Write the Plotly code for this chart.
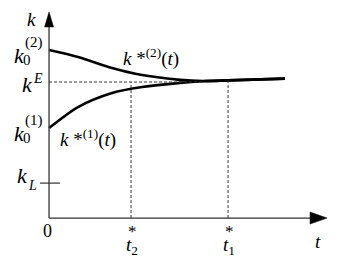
import plotly.graph_objects as go

# ---- data ----
t_vals = [0.0, 0.162, 0.352, 0.520, 0.732, 0.860, 1.0, 1.318]
k_upper = [1.235, 1.184, 1.103, 1.051, 1.016, 1.008, 1.012, 1.025]
k_lower = [0.662, 0.816, 0.919, 0.963, 0.994, 1.006, 1.012, 1.025]

K_E = 1.0
K0_2 = 1.235
K0_1 = 0.662
K_L = 0.257
T2 = 0.458
T1 = 1.0
T_MEET = 0.86
Y_TIP = 1.515
X_TIP = 1.553

X_RANGE = [-0.274, 1.670]
Y_RANGE = [-0.301, 1.603]
W, H = 348, 259
PX_X = W / (X_RANGE[1] - X_RANGE[0])
PX_Y = H / (Y_RANGE[1] - Y_RANGE[0])

FONT = "Liberation Serif"

fig = go.Figure()
for ys in (k_upper, k_lower):
    fig.add_trace(go.Scatter(x=t_vals, y=ys, mode="lines",
                             line=dict(color="black", width=2.6, shape="spline", smoothing=0.8),
                             hoverinfo="skip", showlegend=False))

shapes = []
# axes
shapes.append(dict(type="line", x0=0, y0=0, x1=0, y1=Y_TIP - 10 / PX_Y, line=dict(color="#333", width=1.3)))
shapes.append(dict(type="line", x0=0, y0=0, x1=X_TIP - 10 / PX_X, y1=0, line=dict(color="#333", width=1.3)))
# arrowheads
hw = 4.5 / PX_X
ay = Y_TIP - 15 / PX_Y
shapes.append(dict(type="path", path=f"M {-hw},{ay} L 0,{Y_TIP} L {hw},{ay} Z",
                   fillcolor="black", line=dict(color="black", width=0.5)))
hh = 6.0 / PX_Y
ax_ = X_TIP - 17 / PX_X
shapes.append(dict(type="path", path=f"M {ax_},{-hh} L {X_TIP},0 L {ax_},{hh} Z",
                   fillcolor="black", line=dict(color="black", width=0.5)))
# kL tick
shapes.append(dict(type="line", x0=-9 / PX_X, y0=K_L, x1=11 / PX_X, y1=K_L, line=dict(color="#333", width=1.2)))
# dashed guides
dash = dict(color="#333", width=1, dash="3px,2px")
shapes.append(dict(type="line", x0=0, y0=K_E, x1=T_MEET, y1=K_E, line=dash))
shapes.append(dict(type="line", x0=T2, y0=0, x1=T2, y1=K_E, line=dash))
shapes.append(dict(type="line", x0=T1, y0=0, x1=T1, y1=k_upper[t_vals.index(T1)], line=dash))

annotations = []


def ann(x, y, text, size, dx=0, dy=0, xa="center", ya="middle"):
    annotations.append(dict(x=x, y=y, xref="x", yref="y", text=text, showarrow=False,
                            xanchor=xa, yanchor=ya, xshift=dx, yshift=dy,
                            font=dict(family=FONT, size=size, color="black")))


# axis labels
ann(0, Y_TIP, "<i>k</i>", 19, dx=-18, dy=-8)
ann(X_TIP, 0, "<i>t</i>", 19, dx=-9, dy=-23)
ann(0, 0, "0", 18, dx=-2, dy=-13)

# y labels
for val, sup in ((K0_2, "(2)"), (K0_1, "(1)")):
    ann(0, val, "<i>k</i>", 22, dx=-30, dy=-5)
    ann(0, val, sup, 15, dx=-15, dy=8)
    ann(0, val, "0", 15, dx=-22, dy=-10)
ann(0, K_E, "<i>k</i>", 22, dx=-22, dy=-2)
ann(0, K_E, "<i>E</i>", 14, dx=-11, dy=4)
ann(0, K_L, "<i>k</i>", 22, dx=-27, dy=8)
ann(0, K_L, "<i>L</i>", 14, dx=-17, dy=-2)

# t labels
for tv, sub in ((T2, "2"), (T1, "1")):
    ann(tv, 0, "<i>t</i><sub>" + sub + "</sub>", 19, dx=1, dy=-28)
    ann(tv, 0, "*", 17, dx=1, dy=-13)

# curve labels
ann(0.4, 1.235, "<i>k</i> *<sup>(2)</sup>(<i>t</i>)", 19, xa="left", dx=0, dy=-7)
ann(0.05, 0.66, "<i>k</i> *<sup>(1)</sup>(<i>t</i>)", 19, xa="left", dx=0, dy=-10)

fig.update_layout(
    width=W, height=H, margin=dict(l=0, r=0, t=0, b=0),
    paper_bgcolor="white", plot_bgcolor="white",
    xaxis=dict(range=X_RANGE, visible=False, fixedrange=True),
    yaxis=dict(range=Y_RANGE, visible=False, fixedrange=True),
    shapes=shapes, annotations=annotations, showlegend=False,
)
fig.write_html("out.html")
